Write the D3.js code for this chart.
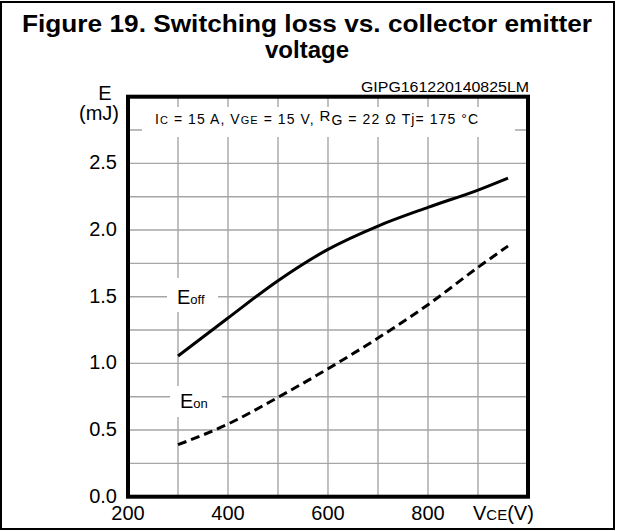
<!DOCTYPE html>
<html>
<head>
<meta charset="utf-8">
<script src="https://cdn.jsdelivr.net/npm/d3@7"></script>
<style>
  body { margin: 0; background: #fff; }
  text { font-family: "Liberation Sans", Arial, sans-serif; fill: #000; }
</style>
</head>
<body>
<svg id="chart"></svg>
<script>
// values
const vce = [300, 400, 500, 600, 700, 800, 900, 960];
const eoff = [1.055, 1.34, 1.62, 1.855, 2.03, 2.17, 2.30, 2.39];
const eon = [0.39, 0.545, 0.745, 0.96, 1.19, 1.44, 1.72, 1.88];
const yTicks = [0.0, 0.5, 1.0, 1.5, 2.0, 2.5];
const xTicks = [200, 400, 600, 800];
const xGrid = [300, 400, 500, 600, 700, 800, 900];
const yGrid = [0.25, 0.5, 0.75, 1.0, 1.25, 1.5, 1.75, 2.0, 2.25, 2.5, 2.75];

const width = 617;
const height = 531;
const svg = d3.select("#chart").attr("width", width).attr("height", height);

const x = d3.scaleLinear().domain([200, 1000]).range([128, 528]);
const y = d3.scaleLinear().domain([0, 3]).range([496.7, 96.7]);

// outer frame
svg.append("rect")
    .attr("x", 1).attr("y", 2).attr("width", 613).attr("height", 527)
    .attr("fill", "none").attr("stroke", "#000").attr("stroke-width", 2);

// title
svg.append("text").attr("x", 307).attr("y", 32).attr("text-anchor", "middle")
    .attr("font-size", 24).attr("font-weight", "bold")
    .attr("textLength", 570).attr("lengthAdjust", "spacingAndGlyphs")
    .text("Figure 19. Switching loss vs. collector emitter");
svg.append("text").attr("x", 307).attr("y", 58).attr("text-anchor", "middle")
    .attr("font-size", 24).attr("font-weight", "bold")
    .text("voltage");

// grid
svg.append("g").selectAll("line").data(xGrid).enter().append("line")
    .attr("x1", d => x(d)).attr("x2", d => x(d))
    .attr("y1", y(3)).attr("y2", y(0))
    .attr("stroke", "#a6a6a6").attr("stroke-width", 1.4);
svg.append("g").selectAll("line").data(yGrid).enter().append("line")
    .attr("x1", x(200)).attr("x2", x(1000))
    .attr("y1", d => y(d)).attr("y2", d => y(d))
    .attr("stroke", "#a6a6a6").attr("stroke-width", 1.4);

// white boxes under the labels
const boxes = [[142, 107, 373, 30], [167, 278, 51, 34], [170, 386, 52, 31]];
svg.append("g").selectAll("rect").data(boxes).enter().append("rect")
    .attr("x", d => d[0]).attr("y", d => d[1])
    .attr("width", d => d[2]).attr("height", d => d[3])
    .attr("fill", "#fff");

// curves
const line = d3.line().curve(d3.curveMonotoneX);
svg.append("path")
    .attr("d", line(vce.map((v, i) => [x(v), y(eoff[i])])))
    .attr("fill", "none").attr("stroke", "#000").attr("stroke-width", 3);
svg.append("path")
    .attr("d", line(vce.map((v, i) => [x(v), y(eon[i])])))
    .attr("fill", "none").attr("stroke", "#000").attr("stroke-width", 3)
    .attr("stroke-dasharray", "9,5");

// plot frame
svg.append("rect")
    .attr("x", x(200)).attr("y", y(3))
    .attr("width", x(1000) - x(200)).attr("height", y(0) - y(3))
    .attr("fill", "none").attr("stroke", "#000").attr("stroke-width", 4);

// tick labels
svg.append("g").selectAll("text").data(yTicks).enter().append("text")
    .attr("x", 117).attr("y", d => y(d)).attr("dy", "0.3em")
    .attr("text-anchor", "end").attr("font-size", 20)
    .text(d => d.toFixed(1));
svg.append("g").selectAll("text").data(xTicks).enter().append("text")
    .attr("x", d => x(d)).attr("y", 520)
    .attr("text-anchor", "middle").attr("font-size", 20)
    .text(d => d);

// axis titles
svg.append("text").attr("x", 105).attr("y", 100).attr("text-anchor", "middle")
    .attr("font-size", 20).text("E");
svg.append("text").attr("x", 99).attr("y", 120).attr("text-anchor", "middle")
    .attr("font-size", 20).text("(mJ)");
const xt = svg.append("text").attr("x", 473).attr("y", 520).attr("font-size", 20);
xt.append("tspan").text("V");
xt.append("tspan").attr("font-size", 15).text("CE");
xt.append("tspan").text("(V)");

// figure code
svg.append("text").attr("x", 529).attr("y", 92).attr("text-anchor", "end")
    .attr("font-size", 14).attr("textLength", 168).attr("lengthAdjust", "spacingAndGlyphs")
    .text("GIPG161220140825LM");

// conditions
const cond = svg.append("text").attr("x", 155).attr("y", 124).attr("font-size", 14)
    .attr("textLength", 323).attr("lengthAdjust", "spacing");
cond.append("tspan").text("I");
cond.append("tspan").attr("font-size", 11).text("C");
cond.append("tspan").text(" = 15 A, V");
cond.append("tspan").attr("font-size", 11).text("GE");
cond.append("tspan").text("  = 15 V,  ");
cond.append("tspan").attr("dy", -3).attr("font-size", 15).text("R");
cond.append("tspan").attr("dy", 4).attr("font-size", 14).text("G");
cond.append("tspan").attr("dy", -1).text(" = 22 \u03A9  T");
cond.append("tspan").text("j= 175 \u00B0C");

// curve labels
const lOff = svg.append("text").attr("x", 177).attr("y", 304).attr("font-size", 20);
lOff.append("tspan").text("E");
lOff.append("tspan").attr("font-size", 13).text("off");
const lOn = svg.append("text").attr("x", 180).attr("y", 408).attr("font-size", 20);
lOn.append("tspan").text("E");
lOn.append("tspan").attr("font-size", 13).text("on");
</script>
</body>
</html>
